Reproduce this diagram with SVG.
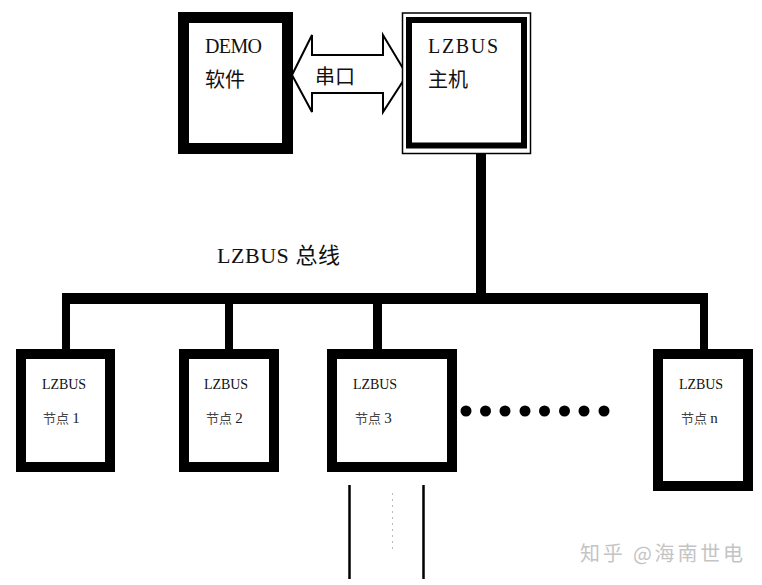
<svg xmlns="http://www.w3.org/2000/svg" width="762" height="585" viewBox="0 0 762 585">
<defs>
<style>
.box{fill:#fff;stroke:#000;}
.t{font-family:"Liberation Serif","Noto Sans CJK SC",serif;fill:#111;}
.big{font-size:20px;}
.sm{font-size:14px;}
.cn{font-family:"Liberation Serif","Noto Sans CJK SC",serif;fill:#444;font-size:13px;}
.num{font-size:15px;fill:#222;}
.wire{fill:#000;}
</style>
</defs>
<rect width="762" height="585" fill="#fff"/>
<g id="connectors">
<polygon points="292,75 312,35 312,55 383,55 383,35 407,75 383,112 383,93 312,93 312,112" fill="#fff" stroke="#000" stroke-width="2" stroke-linejoin="miter"/>
<text class="t" x="315" y="84" font-size="20">串口</text>
<rect class="wire" x="476" y="154" width="10" height="140"/>
<rect class="wire" x="62" y="293" width="646" height="11"/>
<rect class="wire" x="62" y="303" width="8" height="47"/>
<rect class="wire" x="225" y="303" width="8" height="47"/>
<rect class="wire" x="373" y="303" width="9" height="47"/>
<rect class="wire" x="700" y="303" width="8" height="47"/>
<text class="t" x="217" y="263" font-size="22" textLength="123">LZBUS 总线</text>
<line x1="349.5" y1="485" x2="349.5" y2="579" stroke="#000" stroke-width="2.5"/>
<line x1="423.5" y1="485" x2="423.5" y2="579" stroke="#000" stroke-width="2.5"/>
<line x1="392.5" y1="493" x2="392.5" y2="553" stroke="#bbb" stroke-width="1" stroke-dasharray="2,4"/>
</g>
<g id="demo">
<rect class="box" x="183.5" y="17.5" width="104" height="131" stroke-width="11"/>
<text class="t big" x="205" y="53" textLength="57">DEMO</text>
<text class="t big" x="205" y="87">软件</text>
</g>
<g id="host">
<rect class="box" x="402.5" y="13" width="128" height="140.5" stroke-width="1.5"/>
<rect fill="none" stroke="#000" x="409" y="20" width="115" height="125.5" stroke-width="6"/>
<text class="t big" x="428" y="53" textLength="70">LZBUS</text>
<text class="t big" x="428" y="87">主机</text>
</g>
<g id="node1">
<rect class="box" x="21" y="354" width="89" height="113" stroke-width="10"/>
<text class="t sm" x="42" y="389" textLength="44">LZBUS</text>
<text class="cn" x="43" y="423">节点 <tspan class="num">1</tspan></text>
</g>
<g id="node2">
<rect class="box" x="184" y="354" width="90" height="113" stroke-width="10"/>
<text class="t sm" x="204" y="389" textLength="44">LZBUS</text>
<text class="cn" x="206" y="423">节点 <tspan class="num">2</tspan></text>
</g>
<g id="node3">
<rect class="box" x="332" y="354" width="120" height="113" stroke-width="10"/>
<text class="t sm" x="353" y="389" textLength="44">LZBUS</text>
<text class="cn" x="355" y="423">节点 <tspan class="num">3</tspan></text>
</g>
<g id="dots">
<circle cx="466" cy="411" r="5.5"/>
<circle cx="485.5" cy="411" r="5.5"/>
<circle cx="505" cy="411" r="5.5"/>
<circle cx="525" cy="411" r="5.5"/>
<circle cx="544.5" cy="411" r="5.5"/>
<circle cx="564.5" cy="411" r="5.5"/>
<circle cx="584" cy="411" r="5.5"/>
<circle cx="604" cy="411" r="5.5"/>
</g>
<g id="noden">
<rect class="box" x="658" y="354" width="90" height="132" stroke-width="10"/>
<text class="t sm" x="679" y="389" textLength="44">LZBUS</text>
<text class="cn" x="681" y="423">节点 <tspan class="num">n</tspan></text>
</g>
<text x="580" y="561" font-family="'Noto Sans CJK SC',sans-serif" font-size="20" fill="#c4c4c4" textLength="163">知乎 @海南世电</text>
</svg>
